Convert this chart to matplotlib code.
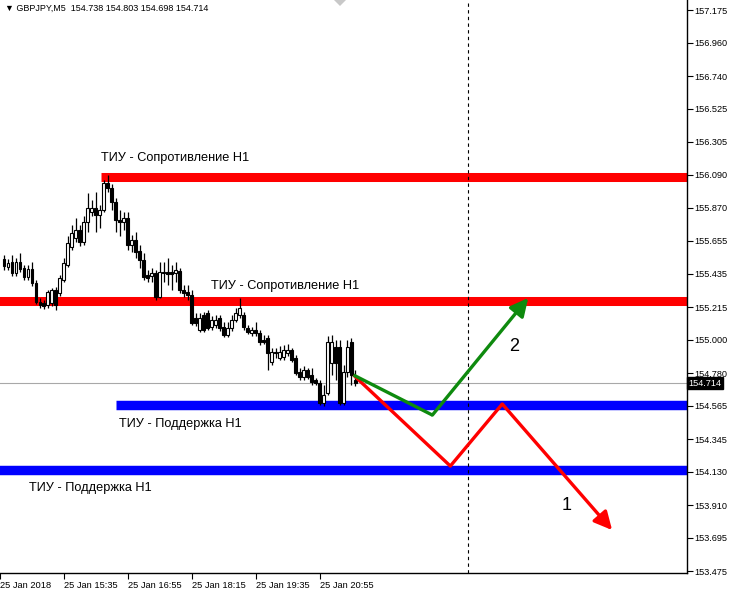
import matplotlib
matplotlib.use("Agg")
import matplotlib.pyplot as plt
import matplotlib.transforms as mtransforms
from matplotlib.patches import Polygon
import numpy as np

plt.rcParams['font.family'] = ['Liberation Sans', 'DejaVu Sans']

# ---------------- data ----------------
opens = [155.534, 155.481, 155.514, 155.441, 155.514, 155.474, 155.415, 155.468, 155.375, 155.250,
         155.243, 155.230, 155.243, 155.329, 155.309, 155.395, 155.494, 155.613, 155.672, 155.725,
         155.646, 155.778, 155.843, 155.870, 155.824, 155.857, 156.035, 156.002, 155.910, 155.791,
         155.778, 155.804, 155.626, 155.659, 155.586, 155.527, 155.428, 155.421, 155.441, 155.283,
         155.448, 155.448, 155.448, 155.441, 155.454, 155.329, 155.316, 155.296, 155.145, 155.066,
         155.165, 155.178, 155.086, 155.099, 155.145, 155.086, 155.033, 155.079, 155.132, 155.165,
         155.165, 155.079, 155.046, 155.066, 155.046, 155.000, 155.013, 154.855, 154.921, 154.881,
         154.888, 154.914, 154.934, 154.881, 154.789, 154.756, 154.802, 154.769, 154.736, 154.716,
         154.584, 154.650, 154.848, 154.954, 154.954, 154.584, 154.789, 154.987, 154.738]
highs = [155.560, 155.534, 155.560, 155.540, 155.573, 155.494, 155.494, 155.514, 155.395, 155.276,
         155.263, 155.329, 155.342, 155.349, 155.428, 155.540, 155.685, 155.758, 155.804, 155.758,
         155.817, 155.969, 155.923, 155.975, 155.890, 156.054, 156.087, 156.028, 155.936, 155.857,
         155.843, 155.843, 155.692, 155.712, 155.626, 155.573, 155.461, 155.474, 155.461, 155.514,
         155.514, 155.540, 155.494, 155.514, 155.474, 155.362, 155.362, 155.329, 155.178, 155.178,
         155.184, 155.197, 155.158, 155.165, 155.165, 155.119, 155.119, 155.165, 155.210, 155.276,
         155.184, 155.099, 155.086, 155.119, 155.066, 155.033, 155.033, 154.947, 154.947, 154.960,
         154.967, 154.974, 154.947, 154.901, 154.815, 154.828, 154.815, 154.815, 154.749, 154.736,
         154.703, 155.026, 155.033, 155.000, 155.000, 154.835, 155.000, 155.013, 154.803]
lows = [155.461, 155.461, 155.421, 155.421, 155.448, 155.395, 155.395, 155.356, 155.237, 155.210,
        155.204, 155.210, 155.224, 155.197, 155.289, 155.382, 155.481, 155.593, 155.646, 155.619,
        155.626, 155.712, 155.817, 155.712, 155.738, 155.843, 155.975, 155.857, 155.712, 155.685,
        155.725, 155.593, 155.580, 155.540, 155.474, 155.395, 155.382, 155.382, 155.263, 155.276,
        155.382, 155.362, 155.329, 155.382, 155.309, 155.283, 155.263, 155.099, 155.092, 155.053,
        155.053, 155.066, 155.066, 155.079, 155.059, 155.020, 155.020, 155.059, 155.119, 155.145,
        155.066, 155.040, 155.026, 155.026, 154.967, 154.974, 154.802, 154.835, 154.881, 154.868,
        154.868, 154.894, 154.855, 154.769, 154.736, 154.736, 154.743, 154.703, 154.703, 154.571,
        154.564, 154.637, 154.769, 154.736, 154.571, 154.571, 154.756, 154.703, 154.698]
closes = [155.487, 155.507, 155.441, 155.514, 155.468, 155.415, 155.468, 155.375, 155.250, 155.230,
          155.224, 155.316, 155.329, 155.230, 155.408, 155.507, 155.639, 155.705, 155.725, 155.646,
          155.778, 155.870, 155.870, 155.824, 155.857, 156.035, 156.002, 155.910, 155.791, 155.778,
          155.804, 155.626, 155.659, 155.580, 155.527, 155.415, 155.408, 155.441, 155.283, 155.448,
          155.441, 155.435, 155.435, 155.461, 155.329, 155.309, 155.296, 155.112, 155.112, 155.145,
          155.066, 155.079, 155.132, 155.132, 155.079, 155.033, 155.079, 155.132, 155.178, 155.210,
          155.086, 155.053, 155.066, 155.046, 154.987, 154.987, 154.914, 154.921, 154.914, 154.921,
          154.934, 154.934, 154.868, 154.782, 154.756, 154.802, 154.756, 154.723, 154.716, 154.584,
          154.637, 154.987, 154.987, 154.848, 154.584, 154.789, 154.954, 154.769, 154.714]

price_ticks = [157.175, 156.960, 156.740, 156.525, 156.305, 156.090, 155.870, 155.655, 155.435,
               155.215, 155.000, 154.780, 154.565, 154.345, 154.130, 153.910, 153.695, 153.475]
time_tick_pos = [-1, 15, 31, 47, 63, 79]
time_tick_labels = ['25 Jan 2018', '25 Jan 15:35', '25 Jan 16:55', '25 Jan 18:15',
                    '25 Jan 19:35', '25 Jan 20:55']

last_price = 154.714
title_text = '\u25BC GBPJPY,M5  154.738 154.803 154.698 154.714'

resist_levels = [156.071, 155.257]
resist_start = [24.25, -1.5]
support_levels = [154.571, 154.143]
support_start = [28.0, -1.5]
level_labels = ['ТИУ - Сопротивление H1', 'ТИУ - Сопротивление H1',
                'ТИУ - Поддержка H1', 'ТИУ - Поддержка H1']
label_x = [24.25, 51.75, 28.75, 6.25]
label_y = [156.199, 155.356, 154.446, 154.024]

green_x = [87.5, 107.25, 131.25]
green_y = [154.769, 154.505, 155.277]
red_x = [87.5, 111.75, 124.75, 152.25]
red_y = [154.769, 154.169, 154.578, 153.747]
scenario_labels = ['2', '1']
scenario_lx = [127.75, 140.75]
scenario_ly = [154.960, 153.912]

future_bar = 116.25

# ---------------- figure ----------------
W, H = 729, 598
fig = plt.figure(figsize=(W / 100, H / 100), dpi=100)
ax = fig.add_axes([0, 25 / H, 687 / W, 573 / H])
ax.set_xlim(-0.75, 171.0)
ax.set_ylim(153.464, 157.241)

for s in ['left', 'top']:
    ax.spines[s].set_visible(False)
for s in ['right', 'bottom']:
    ax.spines[s].set_linewidth(1.0)
    ax.spines[s].set_color('black')

x = np.arange(len(opens))
o = np.array(opens); c = np.array(closes); h = np.array(highs); l = np.array(lows)

for lvl, st in zip(resist_levels, resist_start):
    ax.hlines(lvl, st, 172.0, color='#FF0000', lw=6.5, zorder=1)
for lvl, st in zip(support_levels, support_start):
    ax.hlines(lvl, st, 172.0, color='#0000FF', lw=6.8, zorder=1)

ax.axhline(last_price, color='#A8A8A8', lw=0.8, zorder=0.5)
ax.axvline(future_bar, color='black', lw=0.8, ls=(0, (3, 3)), zorder=1)

ax.vlines(x, l, h, color='black', lw=0.9, zorder=2)
bull = c >= o
body_h = np.maximum(np.abs(c - o), 0.004)
ax.bar(x[bull], body_h[bull], bottom=np.minimum(o, c)[bull], width=0.72,
       color='white', edgecolor='black', linewidth=0.8, zorder=3)
ax.bar(x[~bull], body_h[~bull], bottom=np.minimum(o, c)[~bull], width=0.72,
       color='black', edgecolor='black', linewidth=0.8, zorder=3)

for xs, ys, col in [(red_x, red_y, '#FF0000'), (green_x, green_y, '#0E8A0E')]:
    ax.plot(xs[:-1], ys[:-1], color=col, lw=2.4, solid_capstyle='butt', zorder=4)
    ax.annotate('', xy=(xs[-1], ys[-1]), xytext=(xs[-2], ys[-2]),
                arrowprops=dict(arrowstyle='-|>,head_length=0.9,head_width=0.45', color=col, lw=2.4,
                                shrinkA=0, shrinkB=0, mutation_scale=12), zorder=4)

for t, lx, ly in zip(level_labels, label_x, label_y):
    ax.text(lx, ly, t, fontsize=9.2, color='black', ha='left', va='center', zorder=5)
for t, lx, ly in zip(scenario_labels, scenario_lx, scenario_ly):
    ax.text(lx, ly, t, fontsize=13, color='black', ha='center', va='center', zorder=5)

ax.yaxis.tick_right()
ax.set_yticks(price_ticks)
ax.set_yticklabels([f'{p:.3f}' for p in price_ticks])
ax.tick_params(axis='y', direction='out', length=4, width=0.8, labelsize=6.6, pad=1.5)
ax.set_xticks(time_tick_pos)
ax.set_xticklabels(time_tick_labels)
for lab in ax.get_xticklabels():
    lab.set_horizontalalignment('left')
ax.tick_params(axis='x', direction='out', length=4, width=0.8, labelsize=6.7, pad=2)

trans = mtransforms.blended_transform_factory(ax.transAxes, ax.transData)
ax.text(1.002, last_price, f'{last_price:.3f}', transform=trans, fontsize=6.6, color='white',
        ha='left', va='center', zorder=6, clip_on=False,
        bbox=dict(boxstyle='square,pad=0.15', fc='black', ec='black'))

fig.text(5 / W, 1 - 8 / H, title_text, fontsize=6.5, ha='left', va='center')

fig.patches.append(Polygon([(334 / W, 1), (346 / W, 1), (340 / W, 1 - 6 / H)], closed=True,
                           transform=fig.transFigure, fc='#C8C8C8', ec='none'))

fig.savefig('out.png', dpi=100)
